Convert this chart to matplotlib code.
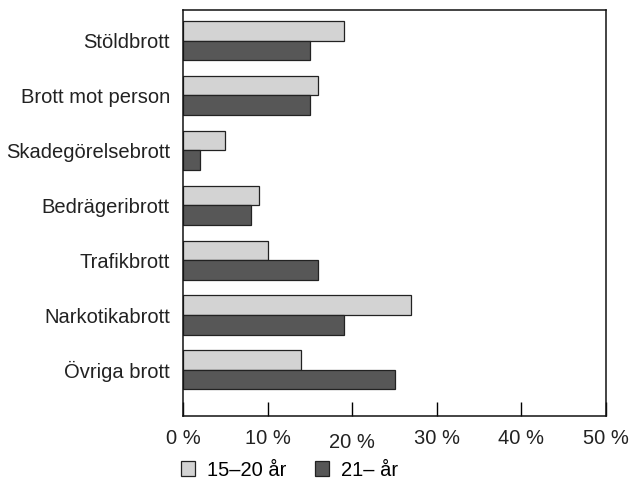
import numpy as np
import matplotlib
matplotlib.use("Agg")
import matplotlib.pyplot as plt
from matplotlib.transforms import ScaledTranslation

categories = ["Stöldbrott", "Brott mot person", "Skadegörelsebrott", "Bedrägeribrott",
              "Trafikbrott", "Narkotikabrott", "Övriga brott"]
young = [19, 16, 5, 9, 10, 27, 14]     # 15–20 år
older = [15, 15, 2, 8, 16, 19, 25]     # 21– år
series_names = ["15\u201320 år", "21\u2013 år"]
xticks = [0, 10, 20, 30, 40, 50]

plt.rcParams['font.family'] = ['Liberation Sans', 'DejaVu Sans']
fs = 14.5

fig = plt.figure(figsize=(6.33, 4.79), dpi=100)
ax = fig.add_axes([183/633, 1-416/479, (606-183)/633, (416-10)/479])

y = np.arange(len(categories))
h = 0.356
ax.barh(y - h/2, young, height=h, color='#d3d3d3', edgecolor='#222222', linewidth=0.9,
        label=series_names[0])
ax.barh(y + h/2, older, height=h, color='#575757', edgecolor='#222222', linewidth=0.9,
        label=series_names[1])

ax.set_xlim(0, 50)
ax.set_ylim(len(categories) - 1 + 0.84, -0.557)
ax.set_yticks(y)
ax.set_yticklabels(categories, fontsize=fs, color='#222222')
ax.tick_params(axis='y', length=0, pad=9.5)
ax.set_xticks(xticks)
ax.set_xticklabels([f"{t} %" for t in xticks], fontsize=fs, color='#222222')
ax.tick_params(axis='x', direction='in', length=10, width=1, pad=9)
for s in ax.spines.values():
    s.set_linewidth(1.1)
    s.set_color('#111111')

# the "20 %" label sits a little lower in the original
lab = ax.get_xticklabels()[2]
lab.set_transform(lab.get_transform() + ScaledTranslation(0, -3/72, fig.dpi_scale_trans))

fig.legend(loc='center left', bbox_to_anchor=(181/633, 1-470/479), ncol=2, frameon=False,
           fontsize=fs, handlelength=0.7, handleheight=0.7, columnspacing=1.4,
           handletextpad=0.6, borderpad=0, borderaxespad=0)

fig.savefig("out.png", dpi=100)
